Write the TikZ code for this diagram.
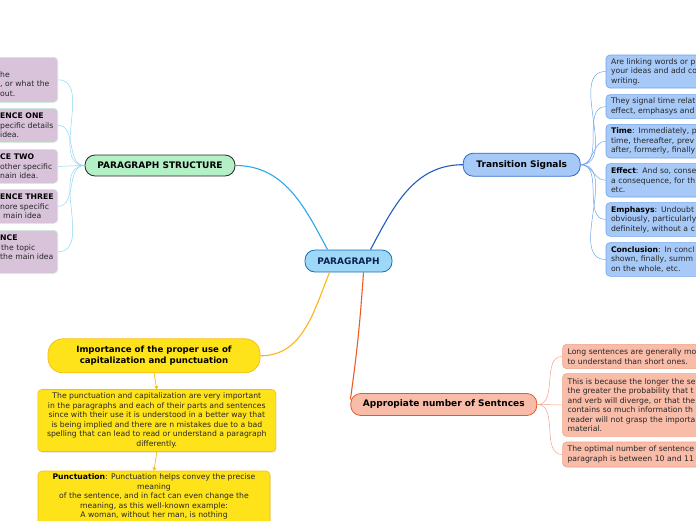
\documentclass[tikz,border=0pt]{standalone}
\usepackage{fontspec}
\setmainfont{DejaVu Sans}
\usepackage{tikz}
\usetikzlibrary{arrows.meta,shadows}
\definecolor{parfill}{HTML}{9DD8F8}
\definecolor{pardraw}{HTML}{1B6FB8}
\definecolor{partext}{HTML}{0D2152}
\definecolor{strfill}{HTML}{B4F0C6}
\definecolor{strlink}{HTML}{2BA8E6}
\definecolor{strsub}{HTML}{8FD6F3}
\definecolor{purfill}{HTML}{D8C3DB}
\definecolor{purdraw}{HTML}{C6EECF}
\definecolor{trfill}{HTML}{A6C9F8}
\definecolor{trdraw}{HTML}{2D6BD2}
\definecolor{trlink}{HTML}{1F5BC4}
\definecolor{trsub}{HTML}{6FA3EC}
\definecolor{sefill}{HTML}{F8BCA8}
\definecolor{sedraw}{HTML}{E8582A}
\definecolor{selink}{HTML}{EC5A26}
\definecolor{sesub}{HTML}{F3A287}
\definecolor{yefill}{HTML}{FFE31A}
\definecolor{yedraw}{HTML}{F6BD16}
\definecolor{yelink}{HTML}{FDB515}
\definecolor{body}{HTML}{262626}
\tikzset{
  topic/.style={rounded corners=10pt, line width=0.8pt, font=\fontsize{9}{10.5}\selectfont\bfseries, inner sep=0pt, align=center},
  sub/.style={rounded corners=4pt, line width=0.6pt, inner ysep=2pt, inner xsep=5pt, font=\fontsize{7.7}{9.5}\selectfont, text=body},
  txt/.style={inner sep=0pt, font=\fontsize{7.7}{9.5}\selectfont, text=body, align=left},
  mainlink/.style={line width=1.1pt},
  sublink/.style={line width=0.5pt},
  yeshadow/.style={drop shadow={shadow xshift=0.6pt, shadow yshift=-1.2pt, opacity=0.25}},
}

\begin{document}
\begin{tikzpicture}[x=1pt,y=1pt]
  \useasboundingbox (0,0) rectangle (696,-520);
  \clip (0,0) rectangle (696,-520);

  \node[topic, fill=parfill, draw=pardraw, text=partext, minimum width=87, minimum height=22] (par) at (348.5,-261) {PARAGRAPH};
  \node[topic, fill=strfill, draw=black!85, minimum width=150, minimum height=21] (struct) at (160,-165.5) {PARAGRAPH STRUCTURE};
  \node[topic, fill=trfill, draw=trdraw, minimum width=117, minimum height=23] (sig) at (521.7,-164.7) {Transition Signals};
  \node[topic, fill=sefill, draw=sedraw, minimum width=186, minimum height=22] (app) at (443.8,-404.5) {Appropiate number of Sentnces};
  \node[topic, fill=yefill, draw=yedraw, rounded corners=15pt, minimum width=212, minimum height=34, font=\fontsize{8.6}{10.8}\selectfont\bfseries] (imp) at (154,-355.8) {Importance of the proper use of\\capitalization and punctuation};

  \draw[mainlink, strlink] ([xshift=-21pt]par.north) to[out=118,in=0] (struct.east);
  \draw[mainlink, trlink] ([xshift=22pt]par.north) to[out=62,in=180] (sig.west);
  \draw[mainlink, yelink] ([xshift=-19pt]par.south) to[out=-112,in=0] (imp.east);
  \draw[mainlink, selink] ([xshift=15pt]par.south) to[out=-94,in=82] ([yshift=5pt]app.west);

  % paragraph structure
  \node[sub, fill=purfill, draw=purdraw, minimum width=70, minimum height=45, anchor=north east] (ps1) at (58,-57) {};
  \node[sub, fill=purfill, draw=purdraw, minimum width=70, minimum height=34, anchor=north east] (ps2) at (58,-108) {};
  \node[sub, fill=purfill, draw=purdraw, minimum width=70, minimum height=34, anchor=north east] (ps3) at (58,-149) {};
  \node[sub, fill=purfill, draw=purdraw, minimum width=70, minimum height=34, anchor=north east] (ps4) at (58,-189) {};
  \node[sub, fill=purfill, draw=purdraw, minimum width=70, minimum height=43, anchor=north east] (ps5) at (58,-230) {};
  \node[txt, anchor=west] (pstxt1) at (0,-84) {he\\, or what the\\out.};
  \node[txt, anchor=west] (pstxt2) at (0,-125.2) {\textbf{\color{black}ENCE ONE}\\pecific details\\idea.};
  \node[txt, anchor=west] (pstxt3) at (0,-166.5) {\textbf{\color{black}CE TWO}\\other specific\\nain idea.};
  \node[txt, anchor=west] (pstxt4) at (0,-206.3) {\textbf{\color{black}ENCE THREE}\\nore specific\\\hspace*{3pt}main idea};
  \node[txt, anchor=west] (pstxt5) at (0,-247.2) {\textbf{\color{black}NCE}\\\hspace*{1pt}the topic\\the main idea};
  \foreach \i in {1,...,5}
    \draw[sublink, strsub] (struct.west) to[out=180,in=0] (ps\i.east);

  % transition signals
  \node[sub, fill=trfill, draw=trsub, text width=140, align=left, minimum height=33, anchor=north west] (ts1) at (605.7,-54.7) {Are linking words or p\\your ideas and add co\\writing.};
  \node[sub, fill=trfill, draw=trsub, text width=140, align=left, minimum height=24, anchor=north west] (ts2) at (605.7,-94.3) {They signal time relat\\effect, emphasys and};
  \node[sub, fill=trfill, draw=trsub, text width=140, align=left, minimum height=33.7, anchor=north west] (ts3) at (605.7,-124) {\textbf{\color{black}Time}: Immediately, p\\time, thereafter, prev\\after, formerly, finally};
  \node[sub, fill=trfill, draw=trsub, text width=140, align=left, minimum height=33.4, anchor=north west] (ts4) at (605.7,-163.3) {\textbf{\color{black}Effect}: And so, conse\\a consequence, for th\\etc.};
  \node[sub, fill=trfill, draw=trsub, text width=140, align=left, minimum height=33.7, anchor=north west] (ts5) at (605.7,-202.3) {\textbf{\color{black}Emphasys}: Undoubt\\obviously, particularly\\definitely, without a c};
  \node[sub, fill=trfill, draw=trsub, text width=140, align=left, minimum height=33.7, anchor=north west] (ts6) at (605.7,-242.3) {\textbf{\color{black}Conclusion}: In concl\\shown, finally, summ\\on the whole, etc.};
  \foreach \i in {1,...,6}
    \draw[sublink, trsub] (sig.east) to[out=0,in=180] (ts\i.west);

  % sentences
  \node[sub, fill=sefill, draw=sesub, text width=160, align=left, minimum height=24.3, anchor=north west] (se1) at (562.3,-344) {Long sentences are generally mo\\to understand than short ones.};
  \node[sub, fill=sefill, draw=sesub, text width=160, align=left, minimum height=62.7, anchor=north west] (se2) at (562.3,-373.3) {This is because the longer the se\\the greater the probability that t\\and verb will diverge, or that the\\contains so much information th\\reader will not grasp the importa\\material.};
  \node[sub, fill=sefill, draw=sesub, text width=160, align=left, minimum height=25, anchor=north west] (se3) at (562.3,-441.7) {The optimal number of sentence\\paragraph is between 10 and 11};
  \foreach \i in {1,...,3}
    \draw[sublink, sesub] (app.east) to[out=0,in=180] (se\i.west);

  % capitalization and punctuation
  \node[sub, yeshadow, fill=yefill, draw=yedraw, align=center, minimum width=238, minimum height=62, inner xsep=1pt] (imp1) at (156.8,-420.5) {The punctuation and capitalization are very important\\in the paragraphs and each of their parts and sentences\\since with their use it is understood in a better way that\\is being implied and there are n mistakes due to a bad\\spelling that can lead to read or understand a paragraph\\differently.};
  \node[sub, yeshadow, fill=yefill, draw=yedraw, minimum width=232, minimum height=80, anchor=north] (imp2) at (154,-470.7) {};
  \node[txt, align=center, anchor=north] (imp2txt) at (154,-473.8) {\textbf{\color{black}Punctuation}: Punctuation helps convey the precise\\meaning\\of the sentence, and in fact can even change the\\meaning, as this well-known example:\\A woman, without her man, is nothing};
  \draw[sublink, yedraw, line width=0.7pt, -{Triangle[length=3pt,width=4pt]}] (imp.south) -- (imp1.north);
  \draw[sublink, yedraw, line width=0.7pt, -{Triangle[length=3pt,width=4pt]}] (imp1.south) -- (imp2.north);
\end{tikzpicture}
\end{document}
